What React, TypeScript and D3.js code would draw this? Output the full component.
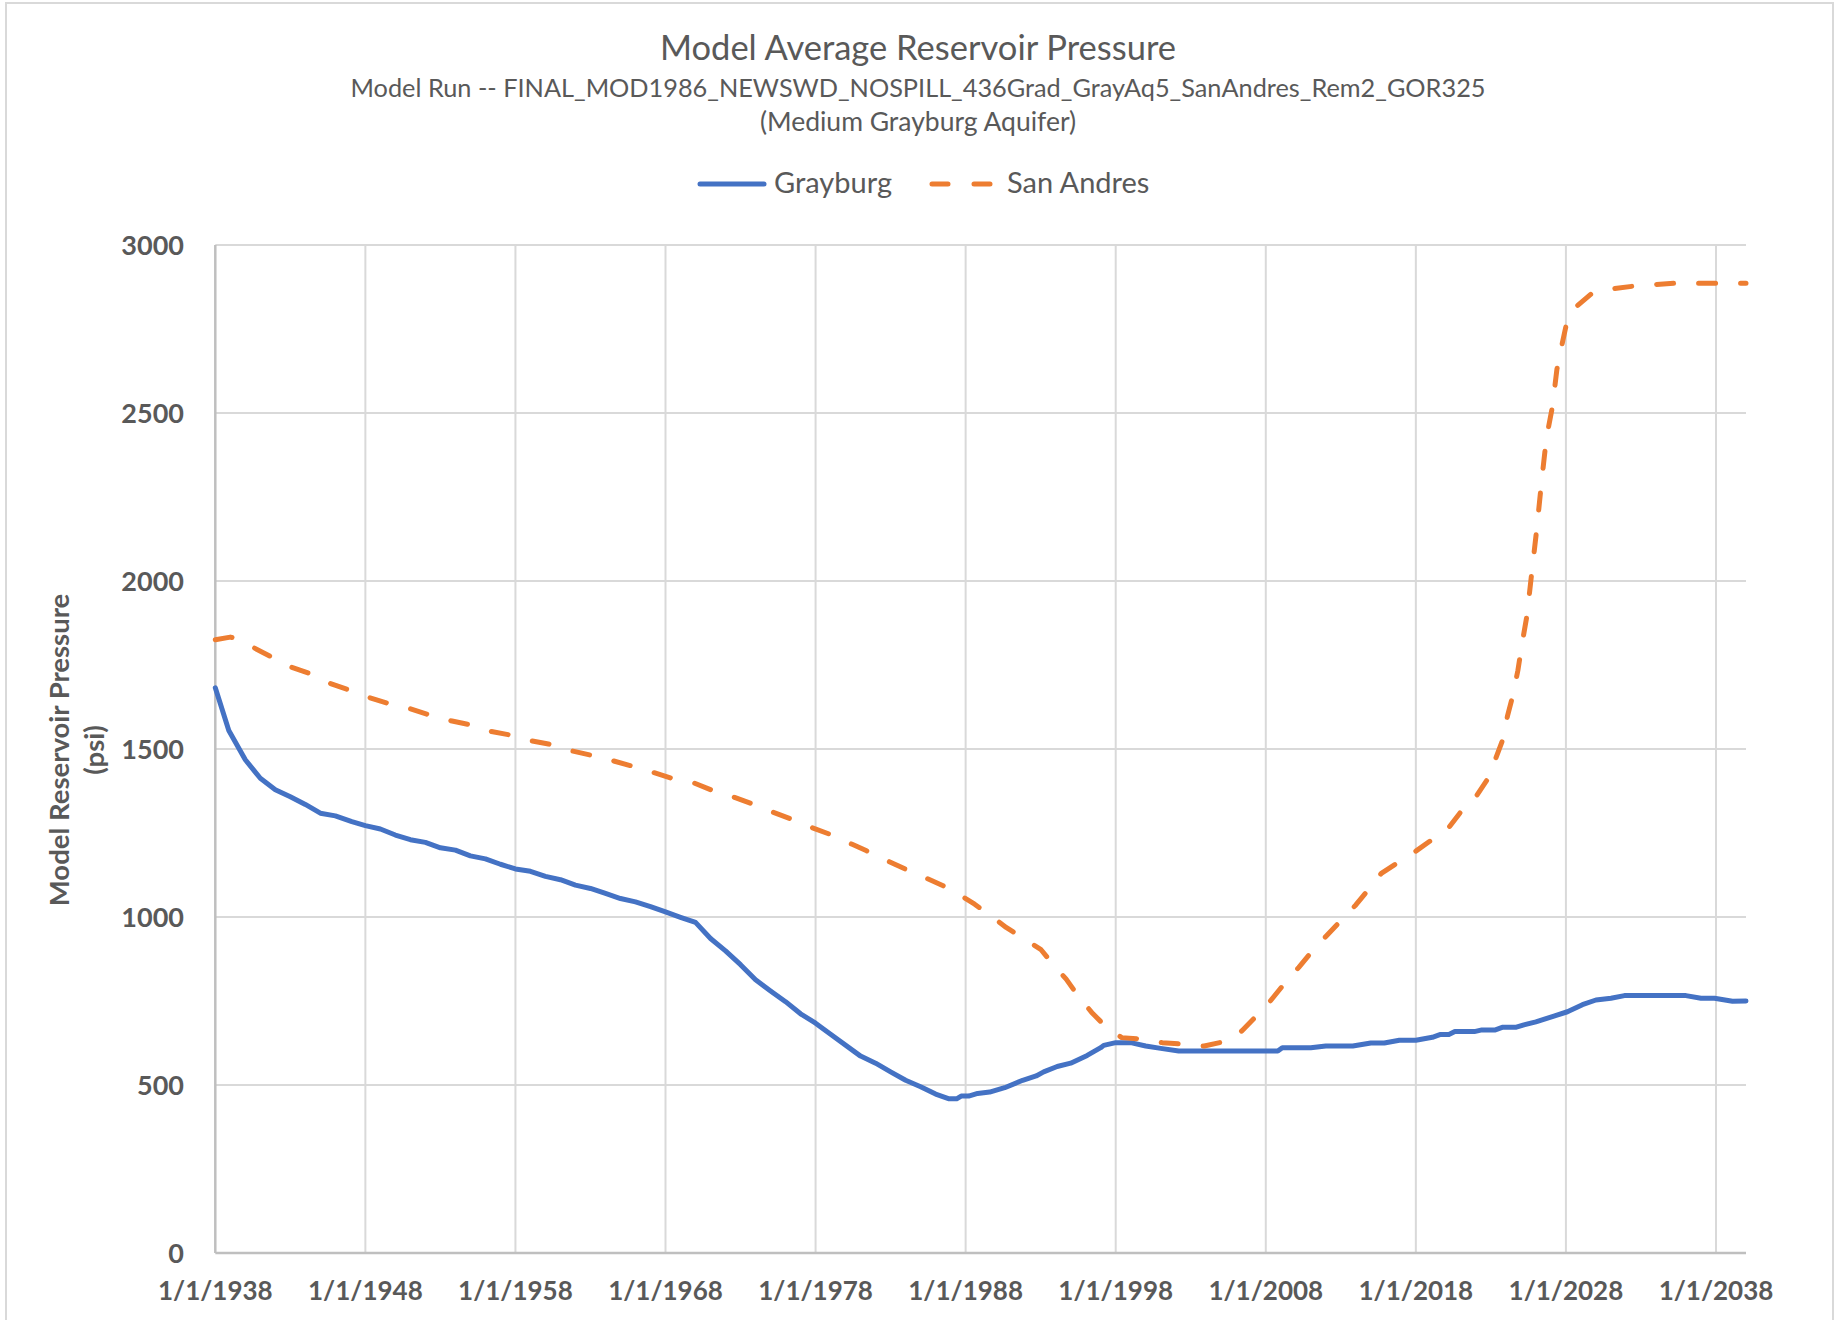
import { useEffect, useRef } from 'react';
import * as d3 from 'd3';

// Grayburg (solid blue) – decimal year / psi
const grayYears = [
  1938.0, 1938.9, 1940.0, 1941.0, 1942.0, 1943.0, 1944.0, 1945.0, 1946.0, 1947.1,
  1948.0, 1949.0, 1950.0, 1951.0, 1952.0, 1953.0, 1954.0, 1955.0, 1956.0, 1957.0,
  1958.0, 1959.0, 1960.0, 1961.0, 1962.0, 1963.0, 1964.0, 1965.0, 1966.0, 1967.0,
  1968.0, 1969.0, 1970.0, 1971.0, 1972.0, 1973.0, 1974.0, 1975.0, 1976.0, 1977.0,
  1978.0, 1979.0, 1981.0, 1982.0, 1983.0, 1984.0, 1985.0, 1986.0, 1986.9, 1987.4,
  1987.7, 1988.2, 1988.8, 1989.6, 1990.6, 1991.8, 1992.7, 1993.2, 1994.1, 1995.0,
  1996.1, 1997.0, 1997.2, 1998.0, 1999.0, 2000.0, 2001.0, 2002.2, 2008.8, 2009.1,
  2011.0, 2012.0, 2013.8, 2015.0, 2015.9, 2016.9, 2018.0, 2019.1, 2019.6, 2020.2,
  2020.6, 2021.9, 2022.4, 2023.3, 2023.8, 2024.7, 2025.2, 2026.0, 2027.2, 2028.1,
  2029.1, 2030.0, 2031.0, 2031.9, 2036.0, 2037.0, 2037.9, 2039.1, 2040.0,
];
const grayValues = [
  1682, 1555, 1468, 1413, 1379, 1358, 1335, 1309, 1301, 1284,
  1272, 1262, 1244, 1230, 1222, 1206, 1199, 1182, 1173, 1157,
  1143, 1136, 1121, 1111, 1095, 1085, 1070, 1055, 1045, 1031,
  1015, 999, 984, 936, 899, 858, 813, 780, 748, 712,
  684, 651, 586, 565, 539, 514, 495, 473, 459, 459,
  467, 467, 475, 479, 492, 514, 527, 539, 555, 565,
  588, 611, 618, 626, 626, 616, 609, 601, 601, 611,
  611, 616, 616, 625, 625, 633, 633, 642, 650, 650,
  659, 659, 664, 664, 672, 672, 679, 688, 705, 718,
  739, 753, 758, 766, 766, 758, 758, 749, 750,
];

// San Andres (dashed orange)
const sanYears = [
  1938.0, 1939.0, 1939.3, 1940.5, 1941.7, 1943.1, 1944.2, 1945.6, 1946.9, 1948.2,
  1949.5, 1950.9, 1952.3, 1953.7, 1955.0, 1956.4, 1957.6, 1959.0, 1960.2, 1961.7,
  1963.0, 1964.5, 1965.7, 1967.2, 1968.4, 1969.9, 1971.0, 1972.6, 1973.7, 1975.1,
  1976.3, 1977.7, 1978.9, 1980.4, 1981.4, 1982.8, 1984.1, 1985.4, 1986.5, 1987.7,
  1988.6, 1989.7, 1990.7, 1992.1, 1993.0, 1993.8, 1994.7, 1995.5, 1996.4, 1997.4,
  1998.4, 2000.0, 2001.1, 2002.7, 2003.9, 2005.4, 2006.4, 2007.5, 2008.3, 2009.3,
  2010.2, 2011.1, 2012.0, 2013.0, 2014.0, 2014.9, 2015.7, 2016.8, 2018.0, 2019.2,
  2020.1, 2021.1, 2022.0, 2022.9, 2023.3, 2023.8, 2024.1, 2024.45, 2024.8, 2025.1,
  2025.4, 2025.7, 2026.05, 2026.4, 2026.7, 2027.1, 2027.4, 2027.75, 2028.0, 2028.7,
  2029.7, 2031.0, 2032.4, 2033.8, 2035.2, 2040.0,
];
const sanValues = [
  1825, 1833, 1830, 1803, 1775, 1743, 1726, 1696, 1676, 1654,
  1636, 1621, 1601, 1584, 1572, 1552, 1542, 1525, 1515, 1495,
  1482, 1465, 1450, 1430, 1413, 1399, 1379, 1356, 1338, 1313,
  1293, 1267, 1247, 1217, 1197, 1167, 1140, 1115, 1093, 1063,
  1038, 1003, 969, 929, 904, 860, 815, 765, 716, 671,
  641, 636, 626, 621, 616, 631, 661, 711, 750, 805,
  850, 899, 942, 989, 1036, 1085, 1130, 1162, 1196, 1234,
  1261, 1319, 1358, 1418, 1469, 1529, 1597, 1657, 1734, 1819,
  1896, 2015, 2152, 2305, 2425, 2519, 2630, 2706, 2758, 2817,
  2855, 2869, 2877, 2882, 2886, 2886,
];

const xTickYears = [1938, 1948, 1958, 1968, 1978, 1988, 1998, 2008, 2018, 2028, 2038];
const yTicks = [0, 500, 1000, 1500, 2000, 2500, 3000];

const seriesNames = ['Grayburg', 'San Andres'];
const seriesColors = ['#4472C4', '#ED7D31'];

const titleText = 'Model Average Reservoir Pressure';
const subtitleLines = [
  'Model Run -- FINAL_MOD1986_NEWSWD_NOSPILL_436Grad_GrayAq5_SanAndres_Rem2_GOR325',
  '(Medium Grayburg Aquifer)',
];

const W = 1835;
const H = 1320;
const FONT = "Lato, 'Open Sans', sans-serif";
const TEXT = '#595959';

export default function App() {
  const svgRef = useRef<SVGSVGElement>(null);

  useEffect(() => {
    if (!svgRef.current) return;
    const svg = d3.select(svgRef.current);
    svg.selectAll('*').remove();

    const plot = { left: 215.3, right: 1746, top: 245, bottom: 1253 };

    const x = d3.scaleLinear().domain([1938, 2040]).range([plot.left, plot.right]);
    const y = d3.scaleLinear().domain([0, 3000]).range([plot.bottom, plot.top]);

    // chart border
    svg.append('rect')
      .attr('x', 6).attr('y', 3)
      .attr('width', 1827).attr('height', H + 20)
      .attr('fill', '#fff')
      .attr('stroke', '#d9d9d9')
      .attr('stroke-width', 2);

    // horizontal grid
    svg.append('g')
      .selectAll('line')
      .data(yTicks.filter(d => d > 0))
      .join('line')
      .attr('x1', plot.left).attr('x2', plot.right)
      .attr('y1', d => y(d)).attr('y2', d => y(d))
      .attr('stroke', '#d9d9d9')
      .attr('stroke-width', 2);

    // vertical grid
    svg.append('g')
      .selectAll('line')
      .data(xTickYears.slice(1))
      .join('line')
      .attr('x1', d => x(d)).attr('x2', d => x(d))
      .attr('y1', plot.top).attr('y2', plot.bottom)
      .attr('stroke', '#d9d9d9')
      .attr('stroke-width', 2);

    // axis lines
    svg.append('line')
      .attr('x1', plot.left).attr('x2', plot.left)
      .attr('y1', plot.top).attr('y2', plot.bottom)
      .attr('stroke', '#bfbfbf').attr('stroke-width', 2.5);
    svg.append('line')
      .attr('x1', plot.left).attr('x2', plot.right)
      .attr('y1', plot.bottom).attr('y2', plot.bottom)
      .attr('stroke', '#bfbfbf').attr('stroke-width', 2.5);

    // y tick labels
    svg.append('g')
      .selectAll('text')
      .data(yTicks)
      .join('text')
      .attr('x', 184)
      .attr('y', d => y(d) + 9.5)
      .attr('text-anchor', 'end')
      .style('font-family', FONT)
      .style('font-size', '27px')
      .style('font-weight', 'bold')
      .style('fill', TEXT)
      .text(d => String(d));

    // x tick labels
    svg.append('g')
      .selectAll('text')
      .data(xTickYears)
      .join('text')
      .attr('x', d => x(d))
      .attr('y', 1300)
      .attr('text-anchor', 'middle')
      .style('font-family', FONT)
      .style('font-size', '26px')
      .style('font-weight', 'bold')
      .style('fill', TEXT)
      .text(d => `1/1/${d}`);

    // y axis title
    const yTitle = svg.append('text')
      .attr('transform', 'translate(0,750) rotate(-90)')
      .attr('text-anchor', 'middle')
      .style('font-family', FONT)
      .style('font-size', '27.5px')
      .style('font-weight', 'bold')
      .style('fill', TEXT);
    yTitle.append('tspan').attr('x', 0).attr('y', 69).text('Model Reservoir Pressure');
    yTitle.append('tspan').attr('x', 0).attr('y', 104).text('(psi)');

    // series lines
    const grayPath = d3.line<number>()
      .x((_, i) => x(grayYears[i]))
      .y(d => y(d))
      .curve(d3.curveLinear);
    const sanPath = d3.line<number>()
      .x((_, i) => x(sanYears[i]))
      .y(d => y(d))
      .curve(d3.curveLinear);

    svg.append('path')
      .attr('d', grayPath(grayValues) ?? '')
      .attr('fill', 'none')
      .attr('stroke', seriesColors[0])
      .attr('stroke-width', 5)
      .attr('stroke-linejoin', 'round')
      .attr('stroke-linecap', 'round');

    svg.append('path')
      .attr('d', sanPath(sanValues) ?? '')
      .attr('fill', 'none')
      .attr('stroke', seriesColors[1])
      .attr('stroke-width', 5)
      .attr('stroke-linejoin', 'round')
      .attr('stroke-linecap', 'round')
      .attr('stroke-dasharray', '17,25');

    // titles
    svg.append('text')
      .attr('x', 918).attr('y', 60)
      .attr('text-anchor', 'middle')
      .style('font-family', FONT)
      .style('font-size', '34.5px')
      .style('fill', TEXT)
      .text(titleText);

    const subSizes = [25.3, 26.5];
    svg.append('g')
      .selectAll('text')
      .data(subtitleLines)
      .join('text')
      .attr('x', 918)
      .attr('y', (_, i) => 97 + i * 34)
      .attr('text-anchor', 'middle')
      .style('font-family', FONT)
      .style('font-size', (_, i) => `${subSizes[i]}px`)
      .style('fill', TEXT)
      .text(d => d);

    // legend
    const legendX = [700, 932];
    const legendTextX = [774, 1007];
    seriesNames.forEach((name, i) => {
      svg.append('line')
        .attr('x1', legendX[i]).attr('x2', legendX[i] + 64)
        .attr('y1', 184).attr('y2', 184)
        .attr('stroke', seriesColors[i])
        .attr('stroke-width', 5)
        .attr('stroke-linecap', 'round')
        .attr('stroke-dasharray', i === 1 ? '16,26' : null);
      svg.append('text')
        .attr('x', legendTextX[i]).attr('y', 193)
        .style('font-family', FONT)
        .style('font-size', '29px')
        .style('fill', TEXT)
        .text(name);
    });
  }, []);

  return (
    <svg
      ref={svgRef}
      width={W}
      height={H}
      viewBox={`0 0 ${W} ${H}`}
      style={{ position: 'absolute', left: 0, top: 0, background: '#fff' }}
    />
  );
}
